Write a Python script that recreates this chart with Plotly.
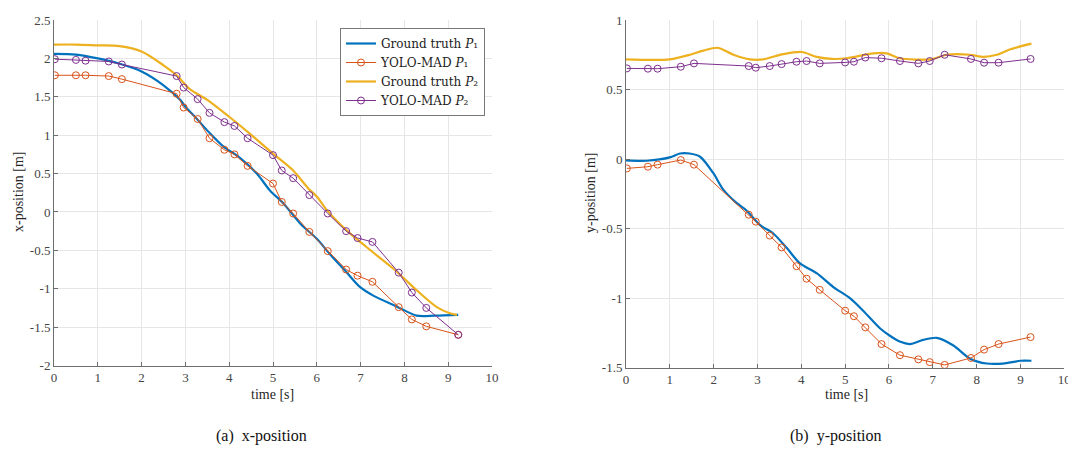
import plotly.graph_objects as go

# ---------------- data ----------------
# Ground truth (x-position)
gt_x_t = [0, 0.5, 1.0, 1.5, 2.0, 2.5, 2.88, 3.0, 3.28, 3.55, 3.87, 4.21, 4.63, 4.93, 5.24, 5.62, 6.0, 6.3, 6.64, 6.99, 7.29, 7.82, 8.28, 8.7, 9.23]
gt_x_p1 = [2.06, 2.05, 2.0, 1.93, 1.83, 1.65, 1.46, 1.37, 1.2, 1.03, 0.85, 0.72, 0.50, 0.28, 0.11, -0.15, -0.35, -0.55, -0.76, -0.98, -1.09, -1.23, -1.35, -1.35, -1.34]
gt_x2_t = [0, 0.5, 1.0, 1.5, 2.0, 2.5, 2.8, 3.1, 3.5, 4.0, 4.47, 5.0, 5.46, 5.8, 6.0, 6.22, 6.68, 7.14, 7.75, 8.28, 8.74, 9.04, 9.2]
gt_x_p2 = [2.18, 2.18, 2.17, 2.16, 2.09, 1.91, 1.78, 1.6, 1.46, 1.24, 1.02, 0.76, 0.54, 0.31, 0.2, 0.03, -0.24, -0.46, -0.74, -1.02, -1.24, -1.32, -1.34]

# YOLO-MAD detections (shared time stamps)
yolo_t = [0.02, 0.5, 0.72, 1.25, 1.55, 2.8, 2.96, 3.28, 3.55, 3.89, 4.12, 4.42, 5.0, 5.2, 5.46, 5.83, 6.25, 6.67, 6.93, 7.27, 7.87, 8.17, 8.5, 9.23]
yolo_x_p1 = [1.78, 1.78, 1.78, 1.77, 1.73, 1.54, 1.36, 1.21, 0.96, 0.81, 0.75, 0.60, 0.37, 0.13, -0.02, -0.26, -0.51, -0.75, -0.83, -0.91, -1.24, -1.40, -1.49, -1.60]
yolo_x_p2 = [1.99, 1.98, 1.97, 1.96, 1.92, 1.77, 1.62, 1.47, 1.29, 1.17, 1.12, 0.96, 0.74, 0.54, 0.44, 0.22, -0.02, -0.25, -0.34, -0.39, -0.79, -1.05, -1.25, -1.60]

# Ground truth (y-position)
gt_y_t = [0, 0.47, 1.0, 1.23, 1.45, 1.69, 1.99, 2.22, 2.5, 2.75, 3.06, 3.36, 3.67, 3.97, 4.35, 4.73, 5.11, 5.41, 5.8, 6.02, 6.26, 6.48, 6.78, 7.09, 7.47, 7.85, 8.23, 8.6, 9.0, 9.25]
gt_y_p1 = [-0.01, -0.012, 0.012, 0.04, 0.04, 0.017, -0.10, -0.22, -0.31, -0.37, -0.475, -0.535, -0.64, -0.75, -0.82, -0.92, -1.00, -1.09, -1.218, -1.27, -1.314, -1.33, -1.30, -1.285, -1.34, -1.435, -1.47, -1.47, -1.45, -1.45]
gt_y2_t = [0, 1.0, 1.46, 1.76, 2.1, 2.45, 2.83, 3.13, 3.59, 4.01, 4.35, 4.7, 5.04, 5.64, 5.95, 6.25, 6.94, 7.32, 7.85, 8.16, 8.46, 8.77, 9.25]
gt_y_p2 = [0.717, 0.717, 0.75, 0.78, 0.80, 0.75, 0.717, 0.717, 0.755, 0.77, 0.735, 0.72, 0.725, 0.76, 0.76, 0.725, 0.717, 0.75, 0.75, 0.735, 0.75, 0.79, 0.83]

yolo_y_p1 = [-0.067, -0.055, -0.04, -0.007, -0.04, -0.40, -0.45, -0.55, -0.635, -0.77, -0.86, -0.94, -1.09, -1.13, -1.21, -1.33, -1.41, -1.44, -1.46, -1.48, -1.43, -1.37, -1.33, -1.28]
yolo_y_p2 = [0.652, 0.65, 0.65, 0.664, 0.688, 0.669, 0.657, 0.669, 0.683, 0.70, 0.705, 0.688, 0.695, 0.70, 0.73, 0.725, 0.705, 0.688, 0.705, 0.75, 0.72, 0.693, 0.693, 0.72]

x_ticks = list(range(0, 11))
x_ticktext = [str(v) for v in x_ticks]
left_yticks = [-2, -1.5, -1, -0.5, 0, 0.5, 1, 1.5, 2, 2.5]
left_yticktext = ["-2", "-1.5", "-1", "-0.5", "0", "0.5", "1", "1.5", "2", "2.5"]
right_yticks = [-1.5, -1, -0.5, 0, 0.5, 1]
right_yticktext = ["-1.5", "-1", "-0.5", "0", "0.5", "1"]

names = ["Ground truth <i>P</i>\u2081", "YOLO-MAD <i>P</i>\u2081",
         "Ground truth <i>P</i>\u2082", "YOLO-MAD <i>P</i>\u2082"]

# ---------------- styling ----------------
BLUE = "#0072BD"
ORANGE = "#D95319"
YELLOW = "#EDB120"
PURPLE = "#7E2F8E"
FONT = "Liberation Serif"
LFONT = "DejaVu Serif"

# page has an 8px body margin; figure sized to fill the remaining window
OFF = 8
W, H = 1068, 443


def px(xr):
    return (xr - OFF) / W


def py(yr):
    return 1 - (yr - OFF) / H


fig = go.Figure()


def add_set(xa, ya, gt1t, gt1, gt2t, gt2, y1, y2, show):
    fig.add_trace(go.Scatter(x=gt1t, y=gt1, mode="lines", line=dict(color=BLUE, width=2.2, shape="spline", smoothing=0.8),
                             name=names[0], showlegend=show, xaxis=xa, yaxis=ya))
    fig.add_trace(go.Scatter(x=yolo_t, y=y1, mode="lines+markers", line=dict(color=ORANGE, width=1),
                             marker=dict(symbol="circle-open", size=7, color=ORANGE, line=dict(width=1)),
                             name=names[1], showlegend=show, xaxis=xa, yaxis=ya))
    fig.add_trace(go.Scatter(x=gt2t, y=gt2, mode="lines", line=dict(color=YELLOW, width=2.2, shape="spline", smoothing=0.8),
                             name=names[2], showlegend=show, xaxis=xa, yaxis=ya))
    fig.add_trace(go.Scatter(x=yolo_t, y=y2, mode="lines+markers", line=dict(color=PURPLE, width=1),
                             marker=dict(symbol="circle-open", size=7, color=PURPLE, line=dict(width=1)),
                             name=names[3], showlegend=show, xaxis=xa, yaxis=ya))


add_set("x", "y", gt_x_t, gt_x_p1, gt_x2_t, gt_x_p2, yolo_x_p1, yolo_x_p2, True)
add_set("x2", "y2", gt_y_t, gt_y_p1, gt_y2_t, gt_y_p2, yolo_y_p1, yolo_y_p2, False)

axis_common = dict(showgrid=True, gridcolor="#e6e6e6", gridwidth=1, zeroline=False, automargin=False,
                   showline=True, linecolor="#6e6e6e", linewidth=1, ticks="inside", ticklen=4,
                   tickcolor="#6e6e6e", tickfont=dict(family=FONT, size=13, color="#444444"), mirror=False)

fig.update_layout(
    template="none",
    width=W, height=H, autosize=False,
    margin=dict(l=0, r=0, t=0, b=0, pad=0),
    paper_bgcolor="white", plot_bgcolor="white",
    font=dict(family=FONT, color="#262626"),
    xaxis=dict(domain=[px(54), px(492)], range=[0, 10], tickvals=x_ticks, ticktext=x_ticktext, anchor="y", **axis_common),
    yaxis=dict(domain=[py(365.5), py(20)], range=[-2, 2.5], tickvals=left_yticks, ticktext=left_yticktext, anchor="x", **axis_common),
    xaxis2=dict(domain=[px(626), px(1064.3)], range=[0, 10], tickvals=x_ticks, ticktext=x_ticktext, anchor="y2", **axis_common),
    yaxis2=dict(domain=[py(367.7), py(20)], range=[-1.5, 1], tickvals=right_yticks, ticktext=right_yticktext, anchor="x2", **axis_common),
    legend=dict(x=px(485), y=py(28), xanchor="right", yanchor="top",
                bgcolor="white", bordercolor="#777777", borderwidth=1,
                font=dict(family=LFONT, size=12, color="#222222"), tracegroupgap=0,
                itemwidth=30),
    showlegend=True,
)

ann_font = dict(family=FONT, size=14, color="#262626")
cap_font = dict(family=FONT, size=16, color="#111111")
ann = [
    dict(text="time [s]", x=px(272), y=py(394), font=ann_font),
    dict(text="time [s]", x=px(846), y=py(394), font=ann_font),
    dict(text="x-position [m]", x=px(18), y=py(192), textangle=-90, font=ann_font),
    dict(text="y-position [m]", x=px(590), y=py(193), textangle=-90, font=ann_font),
    dict(text="(a)  x-position", x=px(261), y=py(436), font=cap_font),
    dict(text="(b)  y-position", x=px(836), y=py(436), font=cap_font),
]
for a in ann:
    a.update(xref="paper", yref="paper", showarrow=False, xanchor="center", yanchor="middle")
fig.update_layout(annotations=ann)

fig.write_html("out.html")
